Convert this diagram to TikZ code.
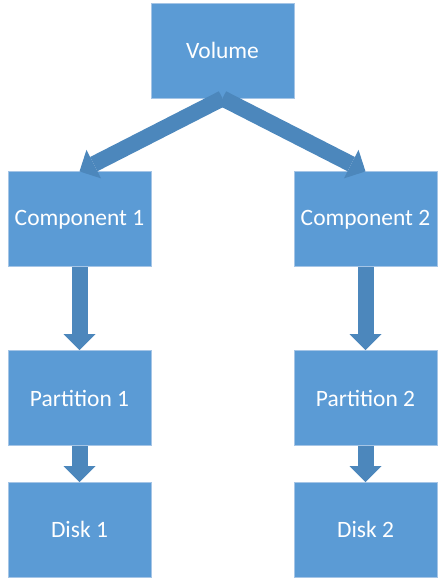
\documentclass[tikz,border=0pt]{standalone}
\usepackage{fontspec}
\setmainfont{Carlito}
\usepackage{tikz}
\usetikzlibrary{positioning,arrows.meta}

\definecolor{boxblue}{RGB}{91,155,213}
\definecolor{boxedge}{RGB}{165,197,230}
\definecolor{flowblue}{RGB}{76,135,188}

\begin{document}
\begin{tikzpicture}[
    x=0.75pt, y=0.75pt,
    font=\fontsize{17.6}{20}\selectfont,
    unit/.style={draw=boxedge, line width=0.6pt, fill=boxblue, text=white,
                 minimum width=107.25pt, minimum height=71.25pt, inner sep=2pt},
    flow/.style={draw=flowblue, line width=12pt,
                 -{Triangle[width=24pt, length=12pt, line width=0pt]}},
  ]
  \useasboundingbox (0,0) rectangle (445,-585);

  % --- volume (top) ---
  \node[unit] (vol) at (222.5,-50.5) {Volume};

  % --- left column ---
  \node[unit, below=54.75pt of vol, xshift=-107.25pt] (comp1) {Component 1};
  \node[unit, below=62.25pt of comp1] (part1) {Partition 1};
  \node[unit, below=27pt of part1] (disk1) {Disk 1};

  % --- right column ---
  \node[unit, below=54.75pt of vol, xshift=107.25pt] (comp2) {Component 2};
  \node[unit, below=62.25pt of comp2] (part2) {Partition 2};
  \node[unit, below=27pt of part2] (disk2) {Disk 2};

  % arrows
  \draw[flow] (vol.south) -- (comp1.north);
  \draw[flow] (vol.south) -- (comp2.north);
  \draw[flow] (comp1.south) -- (part1.north);
  \draw[flow] (part1.south) -- (disk1.north);
  \draw[flow] (comp2.south) -- (part2.north);
  \draw[flow] (part2.south) -- (disk2.north);
\end{tikzpicture}
\end{document}
